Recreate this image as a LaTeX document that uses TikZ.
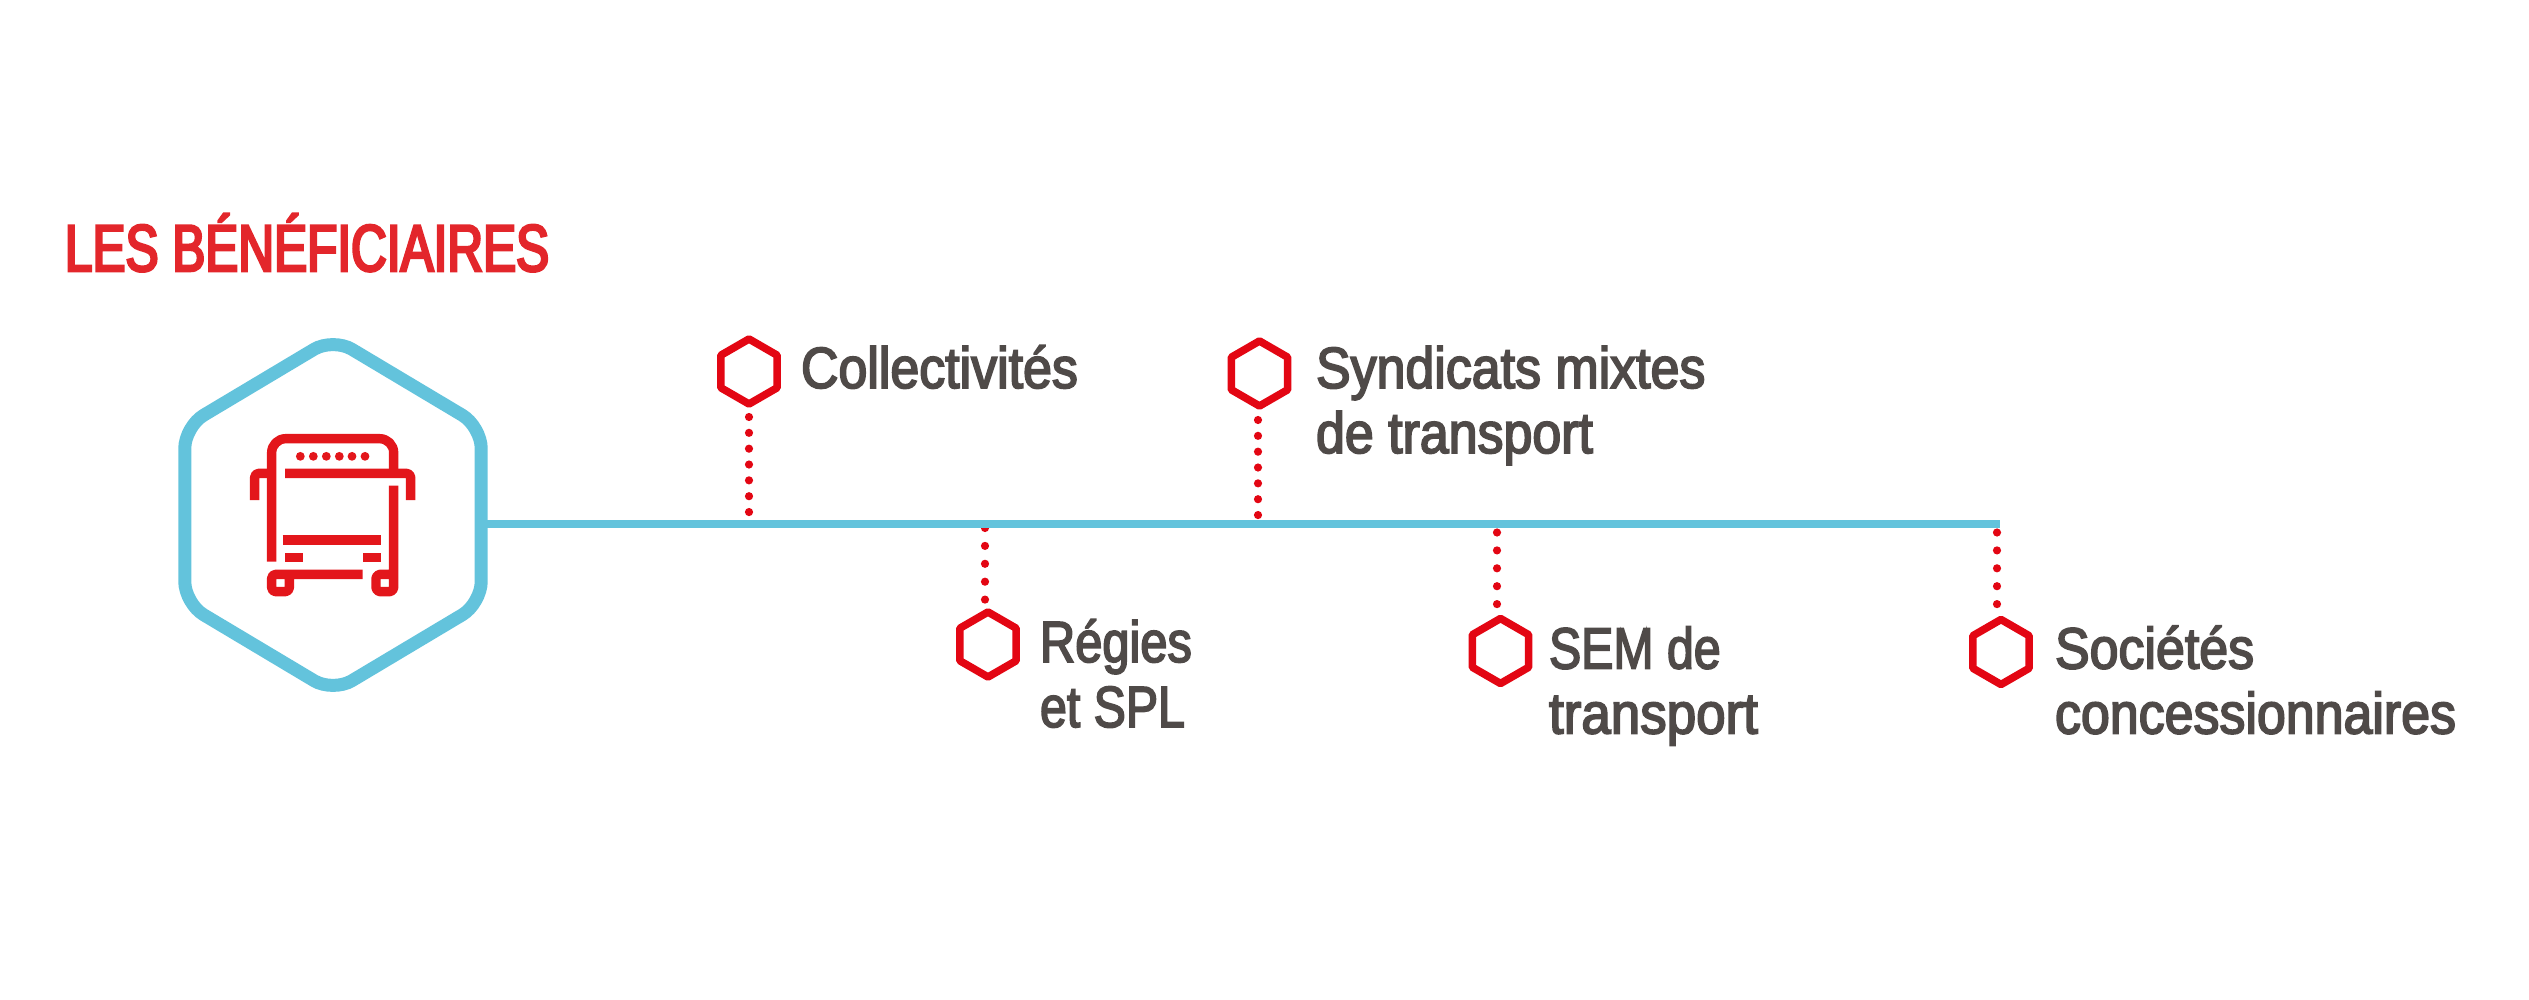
\documentclass[tikz,border=0pt]{standalone}
\usepackage{fontspec}
\setmainfont{Liberation Sans}[FakeStretch=0.895,FakeBold=3]
\newfontfamily\titlefont{Liberation Sans}[FakeStretch=0.75,FakeBold=4]
\usetikzlibrary{shapes.geometric}
\definecolor{hexblue}{HTML}{63C3DC}
\definecolor{brandred}{HTML}{E30613}
\definecolor{busred}{HTML}{E3161B}
\definecolor{titlered}{HTML}{E3262B}
\definecolor{labelgray}{HTML}{4F4A48}
\tikzset{
  bighex/.style={regular polygon,regular polygon sides=6,shape border rotate=30,minimum size=177pt,inner sep=0pt,outer sep=0pt,draw=hexblue,line width=6.5pt,rounded corners=11pt,xscale=0.967,transform shape},
  smallhex/.style={regular polygon,regular polygon sides=6,shape border rotate=30,minimum size=32.5pt,inner sep=0pt,outer sep=0pt,draw=brandred,line width=3.8pt,line join=round},
  axis/.style={draw=hexblue,line width=4pt},
  dotted link/.style={draw=brandred,line width=4.1pt,line cap=round},
  up link/.style={dotted link,dash pattern=on 0pt off 7.92pt},
  down link/.style={dotted link,dash pattern=on 0pt off 8.95pt},
  label/.style={anchor=base west,inner sep=0pt,outer sep=0pt,text=labelgray,font=\fontsize{29}{32.5}\selectfont,align=left},
  narrower/.style={xscale=#1,transform shape},
  title/.style={anchor=base west,inner sep=0pt,outer sep=0pt,text=titlered,font=\titlefont\fontsize{33}{36}\selectfont},
  busline/.style={draw=busred,line width=4.7pt,line cap=butt,line join=round},
}
\begin{document}
\begin{tikzpicture}[x=0.5pt,y=-0.5pt]
\useasboundingbox (0,0) rectangle (2529,1000);
\node[bighex] (bus) at (333,515) {};
\node[smallhex] (h1) at (749,371.5) {};
\node[smallhex] (h2) at (1259.5,373.5) {};
\node[smallhex] (h3) at (988,644.5) {};
\node[smallhex] (h4) at (1500.5,651) {};
\node[smallhex] (h5) at (2001,652) {};
% link ends
\coordinate (t1) at (749,417);
\coordinate (a1) at (749,521);
\coordinate (t2) at (1258,420);
\coordinate (a2) at (1258,524);
\coordinate (a3) at (985,528);
\coordinate (b3) at (985,601);
\coordinate (a4) at (1497,532.5);
\coordinate (b4) at (1497,606);
\coordinate (a5) at (1997,532.5);
\coordinate (b5) at (1997,606);
\draw[up link] (t1) -- (a1);
\draw[up link] (t2) -- (a2);
\draw[down link] (a3) -- (b3);
\draw[down link] (a4) -- (b4);
\draw[down link] (a5) -- (b5);
\coordinate (axisend) at (2000,524);
\draw[axis] (bus.east |- axisend) -- (axisend);
% texts
\node[title] (t0) at (65,271) {LES BÉNÉFICIAIRES};
\node[label] (l1) at (801,388) {Collectivités};
\node[label] (l2a) at (1316,388) {Syndicats mixtes};
\node[label] (l2b) at (1316,453) {de transport};
\node[label,narrower=0.94] (l3a) at (1040,662) {Régies};
\node[label,narrower=0.93] (l3b) at (1040,727) {et SPL};
\node[label,narrower=0.93] (l4a) at (1549,668.5) {SEM de};
\node[label,narrower=1.02] (l4b) at (1549,733.5) {transport};
\node[label] (l5a) at (2055,668.5) {Sociétés};
\node[label] (l5b) at (2055,733.5) {concessionnaires};
% bus icon, in the coordinates of a 3x crop
\begin{scope}[shift={(150,320)},x=0.16667pt,y=-0.16667pt]
\draw[busline,rounded corners=7pt] (365,725) -- (365,356) -- (731,356) -- (731,473);
\draw[busline,rounded corners=2pt] (405,460) -- (782,460) -- (782,540);
\draw[busline,rounded corners=2pt] (365,460) -- (314,460) -- (314,540);
\draw[busline,rounded corners=2pt] (731,497) -- (731,815) -- (678,815) -- (678,763) -- (731,763);
\draw[busline,rounded corners=2pt] (638,763) -- (365,763) -- (365,815) -- (418,815) -- (418,763);
\draw[busline] (398,660) -- (692,660);
\draw[busline] (405,713) -- (458,713);
\draw[busline] (640,713) -- (692,713);
\foreach \dx in {451,490,529,568,606,645} \fill[busred] (\dx,409) circle[radius=2.2pt];
\end{scope}
\end{tikzpicture}
\end{document}
